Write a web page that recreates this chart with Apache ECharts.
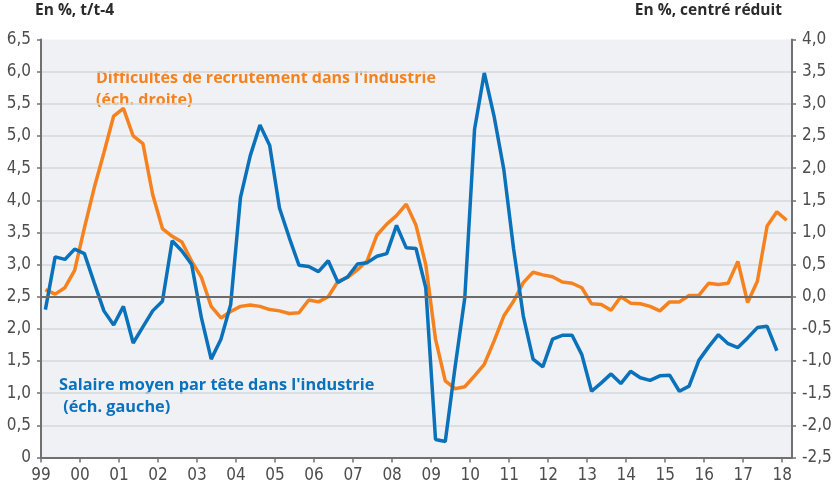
<!DOCTYPE html>
<html><head><meta charset="utf-8">
<script src="https://cdn.jsdelivr.net/npm/echarts@6/dist/echarts.min.js"></script>
<style>html,body{margin:0;padding:0;background:#fff}#c{width:837px;height:490px}</style>
</head><body><div id="c"></div>
<script>
// Quarterly data, first point = 1999 Q1
const yearLabels = ['99','00','01','02','03','04','05','06','07','08','09','10','11','12','13','14','15','16','17','18'];
// Salaire moyen par tête dans l'industrie (%, t/t-4) — left axis, 1999Q1..2017Q4
const salaire = [2.30,3.12,3.08,3.24,3.17,2.72,2.28,2.06,2.35,1.78,
  2.03,2.28,2.43,3.37,3.21,3.00,2.17,1.53,1.84,2.38,
  4.04,4.69,5.17,4.85,3.88,3.42,2.99,2.97,2.89,3.06,
  2.72,2.81,3.01,3.03,3.13,3.17,3.61,3.26,3.25,2.64,
  0.28,0.25,1.40,2.48,5.10,5.98,5.31,4.48,3.25,2.20,
  1.53,1.41,1.84,1.90,1.90,1.60,1.03,1.16,1.30,1.15,
  1.34,1.24,1.20,1.27,1.28,1.03,1.11,1.51,1.72,1.91,
  1.77,1.71,1.86,2.02,2.04,1.66];
// Difficultés de recrutement dans l'industrie (centré réduit) — right axis, 1999Q1..2018Q1
const recrutement = [0.11,0.04,0.14,0.41,1.07,1.69,2.24,2.81,2.93,2.50,
  2.38,1.59,1.06,0.94,0.85,0.55,0.30,-0.15,-0.33,-0.23,
  -0.15,-0.13,-0.15,-0.20,-0.22,-0.26,-0.25,-0.05,-0.08,0.00,
  0.24,0.30,0.42,0.56,0.96,1.13,1.26,1.44,1.11,0.50,
  -0.66,-1.31,-1.43,-1.40,-1.23,-1.05,-0.69,-0.30,-0.07,0.22,
  0.38,0.34,0.31,0.23,0.21,0.14,-0.11,-0.12,-0.21,0.00,
  -0.10,-0.11,-0.15,-0.22,-0.08,-0.08,0.02,0.02,0.21,0.19,
  0.21,0.55,-0.09,0.24,1.10,1.32,1.19];
const leftTicks = {min:0, max:6.5, step:0.5};
const rightTicks = {min:-2.5, max:4, step:0.5};

const POS = 0.45; // position of a quarter's point within its slot
const toPts = arr => arr.map((v,i)=>[i+POS, v]);
const yearTicks = yearLabels.map((_,i)=>i*4);
const fr = v => v.toFixed(1).replace('.', ',');
const labelFont = '"Liberation Sans Narrow","DejaVu Sans Condensed","Roboto Condensed",sans-serif';
const boldFont = '"Open Sans", Lato, sans-serif';

const chart = echarts.init(document.getElementById('c'), null, {renderer:'canvas'});
chart.setOption({
  animation:false,
  backgroundColor:'#ffffff',
  grid:{left:41, right:45, top:39.5, bottom:32.5, show:true, backgroundColor:'#f0f1f4', borderWidth:0, containLabel:false},
  xAxis:{type:'value', min:0, max:77, interval:4,
    axisLine:{show:true, lineStyle:{color:'#707070', width:2}},
    axisTick:{show:true, length:5, customValues:yearTicks, lineStyle:{color:'#707070', width:1.5}},
    axisLabel:{customValues:yearTicks, formatter:v=>yearLabels[Math.round(v/4)], color:'#4d4d4d', fontSize:17, fontFamily:labelFont, margin:10},
    splitLine:{show:false}},
  yAxis:[
    {type:'value', position:'left', min:leftTicks.min, max:leftTicks.max, interval:leftTicks.step,
      axisLine:{show:true, lineStyle:{color:'#707070', width:2}},
      axisTick:{show:true, length:4, lineStyle:{color:'#707070', width:1.5}},
      axisLabel:{formatter:v=> v===0 ? '0' : fr(v), color:'#4d4d4d', fontSize:17, fontFamily:labelFont, margin:10},
      splitLine:{show:true, showMinLine:false, showMaxLine:false, lineStyle:{color:'#d6d8db', width:1.5}}},
    {type:'value', position:'right', min:rightTicks.min, max:rightTicks.max, interval:rightTicks.step,
      axisLine:{show:true, lineStyle:{color:'#707070', width:2}},
      axisTick:{show:true, length:4, lineStyle:{color:'#707070', width:1.5}},
      axisLabel:{formatter:v=>fr(v), color:'#4d4d4d', fontSize:17, fontFamily:labelFont, margin:10},
      splitLine:{show:false}}
  ],
  series:[
    {type:'line', yAxisIndex:1, data:toPts(recrutement), showSymbol:false, symbol:'none',
      lineStyle:{color:'#f5821f', width:3.5}, z:3,
      markLine:{silent:true, symbol:'none', label:{show:false}, animation:false,
        lineStyle:{color:'#6b6b6b', width:2, type:'solid'}, data:[{yAxis:0}]}},
    {type:'line', yAxisIndex:0, data:toPts(salaire), showSymbol:false, symbol:'none',
      lineStyle:{color:'#0a71bb', width:3.5}, z:4}
  ],
  graphic:[
    {type:'text', left:35, top:3, style:{text:'En %, t/t-4', font:'bold 15.5px ' + boldFont, fill:'#2b2b2b'}},
    {type:'text', right:55, top:3, style:{text:'En %, centré réduit', font:'bold 15.5px ' + boldFont, fill:'#2b2b2b'}},
    {type:'text', left:96, top:67, style:{text:"Difficultés de recrutement dans l'industrie\n(éch. droite)", font:'bold 16px ' + boldFont, fill:'#f5821f', lineHeight:22}},
    {type:'text', left:59, top:374, style:{text:"Salaire moyen par tête dans l'industrie\n (éch. gauche)", font:'bold 16.3px ' + boldFont, fill:'#0a71bb', lineHeight:22}}
  ]
});
</script>
</body></html>
